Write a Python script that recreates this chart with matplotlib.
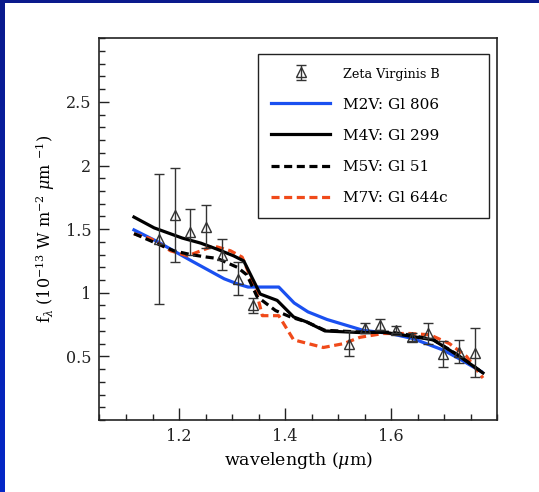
import numpy as np
import matplotlib
matplotlib.use("Agg")
import matplotlib.pyplot as plt
from matplotlib.ticker import MultipleLocator

plt.rcParams['font.family'] = ['DejaVu Serif']
plt.rcParams['mathtext.fontset'] = 'dejavuserif'
plt.rcParams['lines.scale_dashes'] = False

# Zeta Virginis B photometry
zeta_x = [1.162, 1.192, 1.220, 1.251, 1.281, 1.312, 1.340,
          1.520, 1.550, 1.579, 1.609, 1.639, 1.669, 1.698, 1.728, 1.758]
zeta_y = [1.42, 1.61, 1.48, 1.52, 1.30, 1.11, 0.90,
          0.60, 0.72, 0.75, 0.71, 0.65, 0.68, 0.52, 0.535, 0.53]
zeta_err = [0.51, 0.37, 0.18, 0.17, 0.12, 0.13, 0.06,
            0.10, 0.04, 0.04, 0.03, 0.03, 0.08, 0.10, 0.09, 0.19]

# template spectra
m2v_x = [1.115, 1.16, 1.222, 1.285, 1.31, 1.33, 1.388, 1.417, 1.443, 1.479,
         1.547, 1.598, 1.641, 1.698, 1.729, 1.770]
m2v_y = [1.494, 1.40, 1.254, 1.11, 1.07, 1.045, 1.045, 0.92, 0.85, 0.79,
         0.705, 0.68, 0.64, 0.55, 0.48, 0.38]

m4v_x = [1.115, 1.153, 1.206, 1.241, 1.272, 1.303, 1.322, 1.353, 1.385, 1.416,
         1.441, 1.475, 1.543, 1.585, 1.635, 1.679, 1.729, 1.773]
m4v_y = [1.595, 1.51, 1.43, 1.39, 1.342, 1.29, 1.25, 0.99, 0.94, 0.81,
         0.77, 0.70, 0.687, 0.69, 0.66, 0.63, 0.50, 0.37]

m5v_x = [1.115, 1.141, 1.19, 1.222, 1.253, 1.272, 1.31, 1.328, 1.347, 1.382,
         1.41, 1.441, 1.475, 1.55, 1.60, 1.64, 1.68, 1.73, 1.773]
m5v_y = [1.465, 1.418, 1.33, 1.30, 1.28, 1.27, 1.20, 1.14, 0.97, 0.86,
         0.81, 0.77, 0.705, 0.69, 0.69, 0.665, 0.63, 0.50, 0.37]

m7v_x = [1.115, 1.147, 1.184, 1.216, 1.235, 1.26, 1.272, 1.297, 1.319, 1.335,
         1.345, 1.357, 1.388, 1.416, 1.472, 1.51, 1.541, 1.585, 1.635, 1.673,
         1.71, 1.742, 1.773]
m7v_y = [1.463, 1.424, 1.33, 1.29, 1.32, 1.36, 1.36, 1.33, 1.28, 1.12,
         1.02, 0.82, 0.82, 0.63, 0.57, 0.60, 0.65, 0.68, 0.68, 0.67,
         0.60, 0.50, 0.33]

fig = plt.figure(figsize=(5.39, 4.92), dpi=100)

# blue slide border (left and top)
grad = np.linspace(0, 1, 256).reshape(-1, 1)
bl = fig.add_axes([0, 0, 5 / 539, 1])
bl.imshow(grad, aspect='auto', cmap=matplotlib.colors.LinearSegmentedColormap.from_list(
    'b', ['#0a1a8c', '#0428c8']), extent=[0, 1, 0, 1])
bl.axis('off')
bt = fig.add_axes([0, 1 - 3 / 492, 1, 3 / 492])
bt.set_facecolor('#0a1a8c')
bt.set_xticks([]); bt.set_yticks([])
for s in bt.spines.values():
    s.set_visible(False)

ax = fig.add_axes([0.1846, 0.1463, 0.738, 0.7759])

lw = 2.3
ax.plot(m2v_x, m2v_y, color='#1a50f0', lw=lw, label='M2V: Gl 806', zorder=3)
ax.plot(m4v_x, m4v_y, color='black', lw=lw, label='M4V: Gl 299', zorder=4)
ax.plot(m5v_x, m5v_y, color='black', lw=lw, dashes=(5.8, 3.3), label='M5V: Gl 51', zorder=4)
ax.plot(m7v_x, m7v_y, color='#f04a1a', lw=lw, dashes=(5.8, 3.3), label='M7V: Gl 644c', zorder=3)
eb = ax.errorbar(zeta_x, zeta_y, yerr=zeta_err, fmt='^', ms=7.5, mfc='none',
                 mec='#333333', mew=1.0, ecolor='#333333', elinewidth=1.0,
                 capsize=3.5, capthick=1.0, label='Zeta Virginis B', zorder=5)

ax.set_xlim(1.05, 1.8)
ax.set_ylim(0, 3)
ax.set_xticks([1.2, 1.4, 1.6])
ax.set_xticklabels(['1.2', '1.4', '1.6'])
ax.set_yticks([0.5, 1, 1.5, 2, 2.5])
ax.set_yticklabels(['0.5', '1', '1.5', '2', '2.5'])
ax.xaxis.set_minor_locator(MultipleLocator(0.05))
ax.yaxis.set_minor_locator(MultipleLocator(0.1))
ax.tick_params(which='both', direction='in', top=False, right=False,
               labelsize=11.5, width=1.0, colors='#222222')
ax.tick_params(axis='x', which='major', length=8.5, pad=6)
ax.tick_params(axis='x', which='minor', length=4.3)
ax.tick_params(axis='y', which='major', length=7.2, pad=6)
ax.tick_params(axis='y', which='minor', length=4.3)
for s in ax.spines.values():
    s.set_linewidth(1.2)
    s.set_color('#222222')

ax.set_xlabel(r'wavelength ($\mu$m)', fontsize=12.5, labelpad=3)
ax.set_ylabel(r'f$_\lambda$ (10$^{-13}$ W m$^{-2}$ $\mu$m $^{-1}$)', fontsize=11.5, labelpad=6)

handles, labels = ax.get_legend_handles_labels()
order = [4, 0, 1, 2, 3]
leg = ax.legend([handles[i] for i in order], [labels[i] for i in order],
                loc='upper left', bbox_to_anchor=(0.398, 0.959, 0.582, 0.0),
                mode='expand', fontsize=11, frameon=True, fancybox=False,
                edgecolor='#222222', framealpha=1, numpoints=1,
                handlelength=3.9, handletextpad=0.8, labelspacing=1.12,
                borderpad=0.85, borderaxespad=0)
leg.get_frame().set_linewidth(1.0)
leg.get_texts()[0].set_fontsize(9.2)

fig.savefig('out.png', dpi=100)
